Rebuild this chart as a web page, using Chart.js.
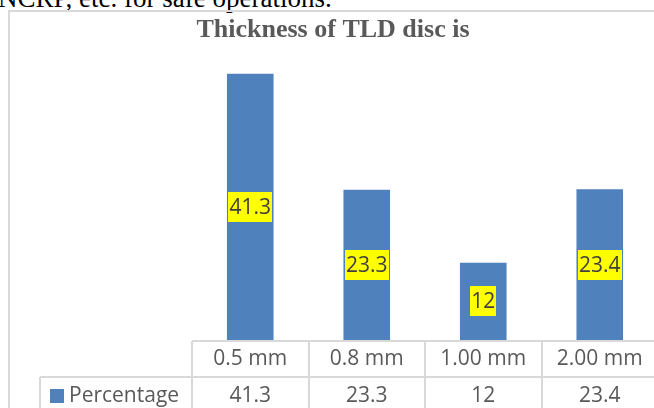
<!DOCTYPE html>
<html>
<head>
<meta charset="utf-8">
<script src="https://cdn.jsdelivr.net/npm/chart.js@4.4.1/dist/chart.umd.min.js"></script>
<style>
  html, body { margin: 0; padding: 0; background: #fff; overflow: hidden; }
  #page { position: relative; width: 654px; height: 408px; overflow: hidden; background: #fff; }
  #above { position: absolute; left: -2px; top: -15px; font: 27px "Liberation Serif", "Times New Roman", serif; line-height: 27px; color: #000; white-space: nowrap; }
  #frame { position: absolute; left: 8px; top: 10px; width: 700px; height: 460px; border: 2px solid #d9d9d9; box-sizing: border-box; }
  #c { position: absolute; left: 0; top: 0; }
</style>
</head>
<body>
<div id="page">
  <div id="above">NCRP, etc. for safe operations.</div>
  <div id="frame"></div>
  <canvas id="c" width="664" height="408"></canvas>
</div>
<script>
const chartTitle = 'Thickness of TLD disc is';
const categories = ['0.5 mm', '0.8 mm', '1.00 mm', '2.00 mm'];
const seriesName = 'Percentage';
const percentage = [41.3, 23.3, 12, 23.4];

const BAR_COLOR = '#4F81BD';
const TEXT_GREY = '#595959';
const LINE_GREY = '#d9d9d9';
const FONT = '"Open Sans", "Liberation Sans", sans-serif';

const decorPlugin = {
  id: 'decor',
  afterDatasetsDraw(chart) {
    const ctx = chart.ctx;
    const meta = chart.getDatasetMeta(0);
    ctx.save();
    ctx.font = '21px ' + FONT;
    ctx.textAlign = 'center';
    ctx.textBaseline = 'middle';
    meta.data.forEach((bar, i) => {
      const txt = String(percentage[i]);
      const w = ctx.measureText(txt).width + 2;
      const h = 30;
      const cx = bar.x;
      const cy = (bar.y + bar.base) / 2;
      ctx.fillStyle = '#FFFF00';
      ctx.fillRect(Math.round(cx - w / 2), Math.round(cy - h / 2), Math.round(w), h);
      ctx.fillStyle = '#404040';
      ctx.fillText(txt, cx, cy + 1);
    });
    ctx.restore();
  },
  afterDraw(chart) {
    const ctx = chart.ctx;
    const xs = chart.scales.x;
    const area = chart.chartArea;
    const catW = (area.right - area.left) / categories.length;
    const top = area.bottom + 1;
    const rowH = 36;
    const bottom = 410;
    ctx.save();
    // title
    ctx.font = 'bold 26px "Liberation Serif", "Times New Roman", serif';
    ctx.fillStyle = TEXT_GREY;
    ctx.textAlign = 'center';
    ctx.textBaseline = 'alphabetic';
    ctx.fillText(chartTitle, 333, 37);

    // table lines
    ctx.strokeStyle = LINE_GREY;
    ctx.lineWidth = 2;
    ctx.beginPath();
    ctx.moveTo(area.left, top); ctx.lineTo(chart.width, top);
    ctx.moveTo(40, top + rowH); ctx.lineTo(chart.width, top + rowH);
    ctx.moveTo(40, top + rowH); ctx.lineTo(40, bottom);
    for (let i = 0; i <= categories.length; i++) {
      const x = Math.round(area.left + i * catW);
      ctx.moveTo(x, top); ctx.lineTo(x, bottom);
    }
    ctx.stroke();

    // table text
    ctx.font = '21px ' + FONT;
    ctx.fillStyle = TEXT_GREY;
    ctx.textBaseline = 'middle';
    ctx.textAlign = 'center';
    categories.forEach((c, i) => {
      const x = xs.getPixelForValue(i);
      ctx.fillText(c, x, top + rowH / 2);
      ctx.fillText(String(percentage[i]), x, top + rowH + 19);
    });
    // legend key
    ctx.fillStyle = BAR_COLOR;
    ctx.fillRect(50, 389, 14, 14);
    ctx.fillStyle = TEXT_GREY;
    ctx.textAlign = 'left';
    ctx.fillText(seriesName, 69, top + rowH + 19);
    ctx.restore();
  }
};

function makeChart() {
  new Chart(document.getElementById('c'), {
    type: 'bar',
    data: {
      labels: categories,
      datasets: [{
        label: seriesName,
        data: percentage,
        backgroundColor: BAR_COLOR,
        borderWidth: 0,
        categoryPercentage: 1.0,
        barPercentage: 0.4
      }]
    },
    options: {
      responsive: false,
      animation: false,
      devicePixelRatio: 1,
      layout: { padding: { left: 192, right: 6, top: 50, bottom: 68 } },
      plugins: { legend: { display: false }, title: { display: false }, tooltip: { enabled: false } },
      scales: {
        x: { display: false },
        y: { display: false, min: 0, max: 45 }
      }
    },
    plugins: [decorPlugin]
  });
}

Promise.all([
  document.fonts.load('21px "Open Sans"'),
  document.fonts.load('bold 26px "Liberation Serif"')
]).then(makeChart, makeChart);
</script>
</body>
</html>
